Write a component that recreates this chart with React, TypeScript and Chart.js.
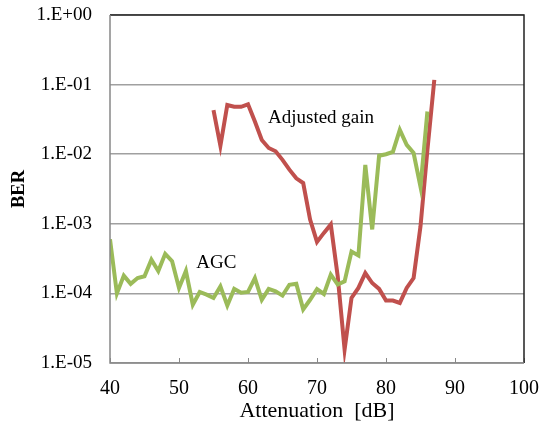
import React, { useEffect, useRef } from "react";
import { Chart, registerables } from "chart.js";

Chart.register(...registerables);

const agcAtten = [40,41,42,43,44,45,46,47,48,49,50,51,52,53,54,55,56,57,58,59,60,61,62,63,64,65,66,67,68,69,70,71,72,73,74,75,76,77,78,79,80,81,82,83,84,85,86];
const agcBer = [6.0e-4,1.0e-4,1.8e-4,1.37e-4,1.66e-4,1.76e-4,3.05e-4,2.1e-4,3.7e-4,2.9e-4,1.2e-4,2.1e-4,6.9e-5,1.05e-4,9.6e-5,8.6e-5,1.26e-4,6.7e-5,1.16e-4,1.02e-4,1.05e-4,1.66e-4,8.1e-5,1.16e-4,1.07e-4,9.3e-5,1.33e-4,1.38e-4,5.9e-5,8.1e-5,1.15e-4,9.8e-5,1.86e-4,1.34e-4,1.49e-4,4.0e-4,3.5e-4,7.0e-3,8.3e-4,9.5e-3,1.0e-2,1.08e-2,2.24e-2,1.36e-2,1.04e-2,3.4e-3,4.1e-2];

const adjAtten = [55,56,57,58,59,60,61,62,63,64,65,66,67,68,69,70,71,72,73,74,75,76,77,78,79,80,81,82,83,84,85,86,87];
const adjBer = [4.3e-2,1.32e-2,5.1e-2,4.8e-2,4.8e-2,5.2e-2,2.95e-2,1.6e-2,1.23e-2,1.1e-2,8.3e-3,6.0e-3,4.5e-3,3.85e-3,1.15e-3,5.5e-4,7.4e-4,9.8e-4,1.76e-4,1.56e-5,8.6e-5,1.2e-4,1.96e-4,1.41e-4,1.16e-4,7.9e-5,7.9e-5,7.3e-5,1.2e-4,1.66e-4,9.2e-4,1.15e-2,1.17e-1];

const yTicks = [1e-5, 1e-4, 1e-3, 1e-2, 1e-1, 1];
const yTickLabels = ["1.E-05", "1.E-04", "1.E-03", "1.E-02", "1.E-01", "1.E+00"];
const xTicks = [40, 50, 60, 70, 80, 90, 100];

const annotations = [
  { text: "Adjusted gain", x: 62.9, y: 0.0333 },
  { text: "AGC", x: 52.5, y: 2.77e-4 },
];

const SERIF = "'Liberation Serif', 'Times New Roman', serif";

const framePlugin = {
  id: "frame",
  afterDatasetsDraw(chart: any) {
    const { ctx, chartArea, scales } = chart;
    const xs = scales.x;
    const ys = scales.y;
    ctx.save();
    ctx.strokeStyle = "#888888";
    ctx.lineWidth = 1;
    xTicks.forEach((v) => {
      const px = Math.round(xs.getPixelForValue(v)) + 0.5;
      ctx.beginPath();
      ctx.moveTo(px, chartArea.bottom);
      ctx.lineTo(px, chartArea.bottom - 5);
      ctx.stroke();
    });
    ctx.strokeStyle = "#222222";
    ctx.lineWidth = 1.5;
    ctx.beginPath();
    ctx.moveTo(chartArea.left, chartArea.top);
    ctx.lineTo(chartArea.right, chartArea.top);
    ctx.lineTo(chartArea.right, chartArea.bottom);
    ctx.stroke();
    ctx.strokeStyle = "#888888";
    ctx.lineWidth = 1.5;
    ctx.beginPath();
    ctx.moveTo(chartArea.left, chartArea.top);
    ctx.lineTo(chartArea.left, chartArea.bottom);
    ctx.lineTo(chartArea.right, chartArea.bottom);
    ctx.stroke();
    ctx.fillStyle = "#000000";
    ctx.font = "19px " + SERIF;
    ctx.textAlign = "left";
    ctx.textBaseline = "middle";
    annotations.forEach((a) => {
      ctx.fillText(a.text, xs.getPixelForValue(a.x), ys.getPixelForValue(a.y));
    });
    ctx.restore();
  },
};

export default function App() {
  const ref = useRef<HTMLCanvasElement>(null);
  useEffect(() => {
    if (!ref.current) return;
    const chart = new Chart(ref.current, {
      type: "line",
      data: {
        datasets: [
          {
            label: "AGC",
            data: agcAtten.map((x, i) => ({ x, y: agcBer[i] })),
            borderColor: "#9BBB59",
            borderWidth: 4,
            pointRadius: 0,
            tension: 0,
          },
          {
            label: "Adjusted gain",
            data: adjAtten.map((x, i) => ({ x, y: adjBer[i] })),
            borderColor: "#C0504D",
            borderWidth: 4,
            pointRadius: 0,
            tension: 0,
          },
        ],
      },
      options: {
        animation: false,
        responsive: false,
        layout: { padding: { left: 0, top: 15, right: 17, bottom: 0 } },
        plugins: { legend: { display: false }, tooltip: { enabled: false } },
        scales: {
          x: {
            type: "linear",
            min: 40,
            max: 100,
            afterBuildTicks: (s: any) => {
              s.ticks = xTicks.map((v) => ({ value: v }));
            },
            afterFit: (s: any) => {
              s.height = 68;
              s.paddingLeft = 0;
              s.paddingRight = 0;
            },
            grid: { display: false, drawTicks: false },
            border: { display: false },
            ticks: {
              padding: 14,
              color: "#000",
              font: { family: SERIF, size: 20 },
              maxRotation: 0,
            },
            title: {
              display: true,
              text: "Attenuation  [dB]",
              color: "#000",
              font: { family: SERIF, size: 22 },
              padding: { top: 0, bottom: 7 },
            },
          },
          y: {
            type: "logarithmic",
            min: 1e-5,
            max: 1,
            afterBuildTicks: (s: any) => {
              s.ticks = yTicks.map((v) => ({ value: v }));
            },
            afterFit: (s: any) => {
              s.width = 110;
              s.paddingTop = 0;
              s.paddingBottom = 0;
            },
            grid: { color: "#a0a0a0", lineWidth: 1.5, drawTicks: false },
            border: { display: false },
            ticks: {
              padding: 18,
              color: "#000",
              font: { family: SERIF, size: 19 },
              callback: (v: any) => {
                const i = yTicks.findIndex((t) => Math.abs(Math.log10(t) - Math.log10(v)) < 1e-6);
                return i >= 0 ? yTickLabels[i] : "";
              },
            },
            title: {
              display: true,
              text: "BER",
              color: "#000",
              font: { family: SERIF, size: 18.5, weight: "bold" },
              padding: { top: 8, bottom: 0 },
            },
          },
        },
      },
      plugins: [framePlugin],
    });
    return () => chart.destroy();
  }, []);
  return (
    <div style={{ position: "fixed", left: 0, top: 0, width: 541, height: 431, background: "#fff" }}>
      <canvas ref={ref} width={541} height={431} style={{ width: 541, height: 431 }} />
    </div>
  );
}
